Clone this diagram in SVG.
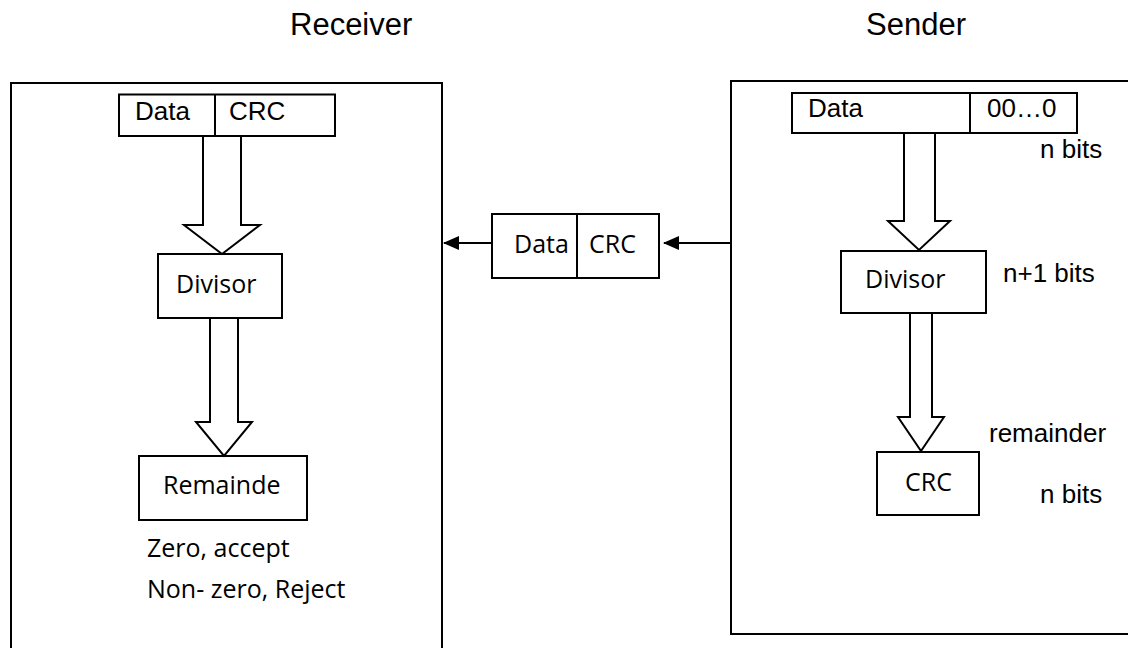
<svg xmlns="http://www.w3.org/2000/svg" width="1128" height="648" viewBox="0 0 1128 648">
<style>
.box{fill:#fff;stroke:#000;stroke-width:2}
.frame{fill:none;stroke:#000;stroke-width:2}
.big{fill:#fff;stroke:#000;stroke-width:2;stroke-linejoin:miter}
.ar{font-family:"Liberation Sans",Arial,sans-serif;font-size:26px;fill:#000}
.ti{font-family:"Liberation Sans",Arial,sans-serif;font-size:31px;fill:#000}
.ca{font-family:"Open Sans","Noto Sans",sans-serif;font-size:25px;fill:#000}
.ln{stroke:#000;stroke-width:2;fill:none}
</style>
<defs>
<marker id="ah" viewBox="0 0 16 14" refX="15" refY="7" markerWidth="16" markerHeight="14" markerUnits="userSpaceOnUse" orient="auto">
<path d="M0,0 L16,7 L0,14 Z" fill="#000"/>
</marker>
</defs>
<rect width="1128" height="648" fill="#fff"/>
<text class="ti" x="290" y="35">Receiver</text>
<text class="ti" x="866" y="35">Sender</text>

<g id="receiver">
<rect class="frame" x="11" y="83" width="431" height="580"/>
<g id="r-datacrc">
<rect class="box" x="119" y="94.5" width="216" height="41.5"/>
<line class="ln" x1="215" y1="94.5" x2="215" y2="136"/>
<text class="ar" x="135" y="120">Data</text>
<text class="ar" x="229" y="120">CRC</text>
</g>
<g id="r-divisor">
<rect class="box" x="158" y="254" width="124" height="64"/>
<text class="ca" x="176" y="293">Divisor</text>
</g>
<g id="r-remainder">
<rect class="box" x="139" y="456" width="168" height="64"/>
<text class="ca" x="163" y="494">Remainde</text>
</g>
<text class="ca" x="147" y="557">Zero, accept</text>
<text class="ca" x="147" y="598">Non- zero, Reject</text>
</g>

<g id="middle">
<rect class="box" x="492" y="214" width="167" height="64"/>
<line class="ln" x1="577" y1="214" x2="577" y2="278"/>
<text class="ca" x="514" y="253">Data</text>
<text class="ca" x="589" y="253">CRC</text>
</g>

<g id="sender">
<rect class="frame" x="731" y="81" width="420" height="553"/>
<g id="s-data">
<rect class="box" x="792" y="93" width="285" height="40"/>
<line class="ln" x1="970" y1="93" x2="970" y2="133"/>
<text class="ar" x="808" y="117">Data</text>
<text class="ar" x="987" y="117">00…0</text>
</g>
<text class="ar" x="1040" y="158">n bits</text>
<g id="s-divisor">
<rect class="box" x="841" y="251" width="145" height="62"/>
<text class="ca" x="865" y="288">Divisor</text>
</g>
<text class="ar" x="1003" y="282">n+1 bits</text>
<g id="s-crc">
<rect class="box" x="877" y="452" width="102" height="63"/>
<text class="ca" x="905" y="491">CRC</text>
</g>
<text class="ar" x="989" y="442">remainder</text>
<text class="ar" x="1040" y="503">n bits</text>
</g>

<g id="connectors">
<polygon class="big" points="203,136 203,225 184,225 222,254 260,225 241,225 241,136"/>
<polygon class="big" points="210,318 210,422 196,422 224,456 252,422 238,422 238,318"/>
<polygon class="big" points="904,133 904,221 888,221 919,250 950,221 935,221 935,133"/>
<polygon class="big" points="910,313 910,417 898,417 921,451 944,417 932,417 932,313"/>
<line class="ln" x1="492" y1="243" x2="444" y2="243" marker-end="url(#ah)"/>
<line class="ln" x1="731" y1="243" x2="664" y2="243" marker-end="url(#ah)"/>
</g>
</svg>
